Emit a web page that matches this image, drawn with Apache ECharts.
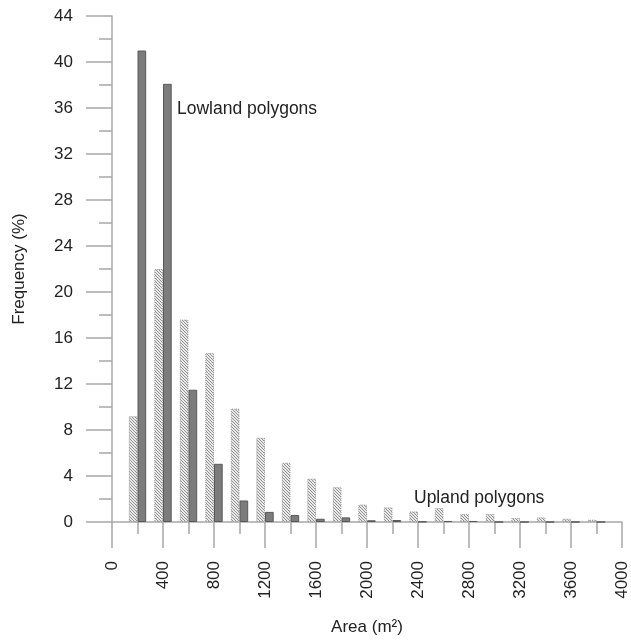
<!DOCTYPE html>
<html>
<head>
<meta charset="utf-8">
<script src="https://cdn.jsdelivr.net/npm/echarts@6/dist/echarts.min.js"></script>
<style>html,body{margin:0;padding:0;background:#fff;overflow:hidden}#c{width:631px;height:641px}</style>
</head>
<body>
<div id="c"></div>
<script>
const binCenters = [200,400,600,800,1000,1200,1400,1600,1800,2000,2200,2400,2600,2800,3000,3200,3400,3600,3800];
const uplandFreq = [9.2,22.0,17.6,14.7,9.86,7.33,5.15,3.77,3.03,1.52,1.27,0.92,1.21,0.69,0.69,0.35,0.4,0.28,0.2];
const lowlandFreq = [41.0,38.1,11.5,5.06,1.87,0.88,0.6,0.28,0.4,0.15,0.17,0.03,0.09,0.09,0,0,0,0,0];
const xTickLabels = [0,400,800,1200,1600,2000,2400,2800,3200,3600,4000];
const yTickLabels = [0,4,8,12,16,20,24,28,32,36,40,44];

function hatch(){
  const n=3;
  const c=document.createElement('canvas'); c.width=n; c.height=n;
  const g=c.getContext('2d');
  g.fillStyle='#e9e9e9'; g.fillRect(0,0,n,n);
  g.strokeStyle='#929292'; g.lineWidth=1;
  g.beginPath();
  g.moveTo(-1,-1); g.lineTo(n+1,n+1);
  g.moveTo(-1,n-1); g.lineTo(1,n+1);
  g.moveTo(n-1,-1); g.lineTo(n+1,1);
  g.stroke();
  return c;
}

const FONT = 'Liberation Sans, Arial, sans-serif';
const TXT = '#222';
const AX = '#a8a8a8';

const el = document.getElementById('c');
const chart = echarts.init(el, null, {renderer:'canvas', width:631, height:641});
chart.setOption({
  animation:false,
  backgroundColor:'#fff',
  grid:{left:112,right:9,top:16,bottom:115,containLabel:false},
  xAxis:{
    type:'value', min:0, max:4000, interval:400,
    name:'Area (m\u00B2)', nameLocation:'middle', nameGap:97,
    nameTextStyle:{fontFamily:FONT,fontSize:17,color:TXT},
    axisLine:{show:true,lineStyle:{color:AX,width:1.5}},
    axisTick:{show:true,length:26,lineStyle:{color:AX,width:1.5}},
    minorTick:{show:true,splitNumber:2,length:12,lineStyle:{color:AX,width:1.5}},
    splitLine:{show:false},
    axisLabel:{rotate:90,margin:39,fontFamily:FONT,fontSize:17,color:TXT,
      formatter:v=>xTickLabels.includes(v)?String(v):''}
  },
  yAxis:{
    type:'value', min:0, max:44, interval:4,
    name:'Frequency (%)', nameLocation:'middle', nameGap:84, nameRotate:90,
    nameTextStyle:{fontFamily:FONT,fontSize:17,color:TXT},
    axisLine:{show:true,lineStyle:{color:AX,width:1.5}},
    axisTick:{show:true,length:26,lineStyle:{color:AX,width:1.5}},
    minorTick:{show:true,splitNumber:2,length:13,lineStyle:{color:AX,width:1.5}},
    splitLine:{show:false},
    axisLabel:{margin:39,fontFamily:FONT,fontSize:17,color:TXT,
      formatter:v=>yTickLabels.includes(v)?String(v):''}
  },
  series:[
    {
      name:'Upland polygons', type:'bar', barWidth:8.7, barGap:'0%',
      data:binCenters.map((x,i)=>[x,uplandFreq[i]]),
      itemStyle:{color:{image:hatch(),repeat:'repeat'},borderColor:'#9a9a9a',borderWidth:1,borderType:[1,1]}
    },
    {
      name:'Lowland polygons', type:'bar', barWidth:8.7, barGap:'0%',
      data:binCenters.map((x,i)=>[x,lowlandFreq[i]]),
      itemStyle:{color:'#7c7c7c',borderColor:'#595959',borderWidth:1}
    }
  ],
  graphic:[
    {type:'text',x:177,y:109,style:{text:'Lowland polygons',font:'17.5px '+FONT,fill:TXT,verticalAlign:'middle',textVerticalAlign:'middle'}},
    {type:'text',x:414,y:498,style:{text:'Upland polygons',font:'17.5px '+FONT,fill:TXT,verticalAlign:'middle',textVerticalAlign:'middle'}}
  ]
});
</script>
</body>
</html>
